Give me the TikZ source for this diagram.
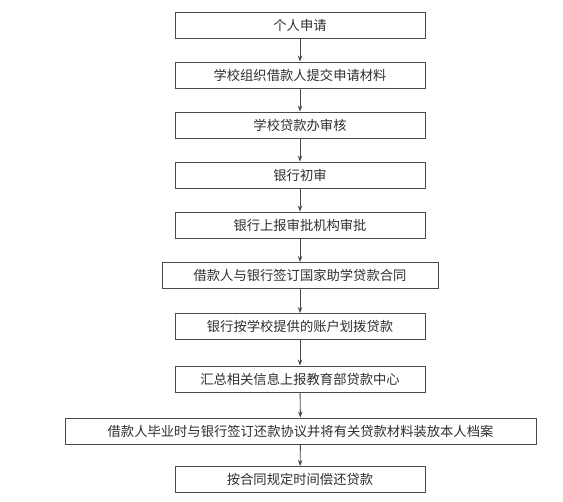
\documentclass[tikz,border=0pt]{standalone}
\usepackage{fontspec}
\newfontfamily\cjk{Noto Sans CJK SC}
\usetikzlibrary{arrows.meta}
\definecolor{ln}{HTML}{4A4A4A}
\definecolor{tx}{HTML}{2E2E2E}
\tikzset{
  stepbox/.style={draw=ln, line width=0.9bp, minimum height=26bp, inner sep=0pt,
    font=\cjk\fontsize{13.3bp}{15bp}\selectfont, text=tx},
  flow/.style={draw=ln, line width=0.9bp, -{Stealth[length=6bp,width=4.5bp]}}
}
\begin{document}
\begin{tikzpicture}[x=1bp,y=-1bp]
\useasboundingbox (0,0) rectangle (563,502);
\node[stepbox, minimum width=250bp] (n1) at (300,25) {个人申请};
\node[stepbox, minimum width=250bp] (n2) at (300,75) {学校组织借款人提交申请材料};
\node[stepbox, minimum width=250bp] (n3) at (300,125) {学校贷款办审核};
\node[stepbox, minimum width=250bp] (n4) at (300,175) {银行初审};
\node[stepbox, minimum width=250bp] (n5) at (300,225) {银行上报审批机构审批};
\node[stepbox, minimum width=276bp] (n6) at (300,275.5) {借款人与银行签订国家助学贷款合同};
\node[stepbox, minimum width=250bp] (n7) at (300,326.5) {银行按学校提供的账户划拨贷款};
\node[stepbox, minimum width=250bp] (n8) at (300,379) {汇总相关信息上报教育部贷款中心};
\node[stepbox, minimum width=471bp] (n9) at (300.5,431) {借款人毕业时与银行签订还款协议并将有关贷款材料装放本人档案};
\node[stepbox, minimum width=250bp] (n10) at (300,479.5) {按合同规定时间偿还贷款};
\foreach \a/\b in {n1/n2,n2/n3,n3/n4,n4/n5,n5/n6,n6/n7,n7/n8,n8/n9,n9/n10}
  \draw[flow] (\a) -- (\b);
\end{tikzpicture}
\end{document}
